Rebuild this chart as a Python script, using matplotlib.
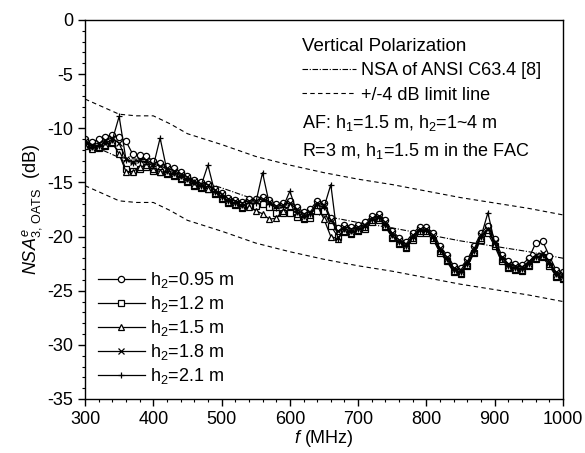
import numpy as np
import matplotlib
matplotlib.use('Agg')
import matplotlib.pyplot as plt
from matplotlib.lines import Line2D
from matplotlib.ticker import MultipleLocator

plt.rcParams['font.family'] = 'Liberation Sans'
plt.rcParams['mathtext.fontset'] = 'custom'
plt.rcParams['mathtext.rm'] = 'Liberation Sans'
plt.rcParams['mathtext.it'] = 'Liberation Sans:italic'
plt.rcParams['axes.unicode_minus'] = False

# frequency grid of the measured curves (MHz)
freq = list(range(300, 1001, 10))

# measured NSA for each receive antenna height (dB)
nsa_095 = [-11.0, -11.3, -11.0, -10.8, -10.6, -10.8, -11.2, -12.4, -12.5, -12.6,
           -13.0, -13.2, -13.5, -13.7, -14.0, -14.4, -14.8, -15.0, -15.1, -15.6,
           -16.0, -16.4, -16.6, -16.8, -16.5, -16.5, -16.3, -16.6, -17.0, -16.9,
           -16.7, -17.3, -17.7, -17.5, -16.7, -16.9, -18.3, -19.2, -18.9, -19.1,
           -18.9, -18.7, -18.1, -17.9, -18.5, -19.5, -20.1, -20.5, -19.7, -19.1,
           -19.1, -19.7, -20.9, -21.7, -22.7, -22.9, -22.1, -20.9, -19.7, -19.0,
           -20.2, -21.7, -22.3, -22.5, -22.6, -22.0, -20.6, -20.4, -21.8, -23.1,
           -23.3]
nsa_12 = [-11.5, -11.8, -11.8, -11.6, -11.4, -12.2, -13.8, -13.9, -13.8, -13.6,
          -13.9, -14.0, -14.2, -14.4, -14.7, -15.0, -15.3, -15.5, -15.6, -16.1,
          -16.5, -16.9, -17.1, -17.4, -17.2, -17.2, -17.0, -17.3, -17.8, -17.8,
          -17.8, -18.2, -18.4, -18.3, -17.6, -17.6, -19.0, -20.0, -19.6, -19.8,
          -19.5, -19.3, -18.7, -18.5, -19.1, -20.1, -20.7, -21.1, -20.3, -19.7,
          -19.7, -20.3, -21.5, -22.3, -23.3, -23.5, -22.7, -21.5, -20.3, -19.7,
          -20.9, -22.3, -22.9, -23.1, -23.2, -22.7, -22.1, -21.9, -22.7, -23.7,
          -23.9]
nsa_15 = [-11.6, -11.9, -11.7, -11.5, -11.3, -12.4, -14.0, -14.0, -13.6, -13.4,
          -13.8, -14.0, -14.1, -14.3, -14.6, -14.9, -15.2, -15.4, -15.6, -16.0,
          -16.4, -16.8, -17.0, -17.3, -17.3, -17.6, -17.9, -18.4, -18.3, -17.6,
          -17.2, -17.9, -18.3, -18.0, -17.1, -18.4, -20.0, -20.2, -19.5, -19.7,
          -19.4, -19.1, -18.5, -18.3, -19.0, -20.0, -20.6, -21.0, -20.1, -19.5,
          -19.5, -20.1, -21.3, -22.2, -23.2, -23.4, -22.6, -21.4, -20.1, -19.4,
          -20.7, -22.1, -22.8, -23.0, -23.1, -22.6, -22.0, -21.8, -22.5, -23.6,
          -23.8]
nsa_18 = [-11.2, -11.5, -11.4, -11.1, -10.9, -11.4, -12.8, -13.1, -12.9, -12.9,
          -13.3, -13.5, -13.7, -13.9, -14.2, -14.5, -14.9, -15.1, -15.2, -15.7,
          -16.1, -16.5, -16.7, -16.9, -16.7, -16.7, -16.5, -16.8, -17.2, -17.1,
          -16.9, -17.5, -17.9, -17.7, -16.9, -17.1, -18.5, -19.5, -19.1, -19.3,
          -19.1, -18.9, -18.3, -18.1, -18.7, -19.7, -20.3, -20.7, -19.9, -19.3,
          -19.3, -19.9, -21.1, -21.9, -22.9, -23.1, -22.3, -21.1, -19.9, -19.3,
          -20.5, -21.9, -22.5, -22.7, -22.8, -22.3, -21.7, -21.5, -22.3, -23.3,
          -23.5]
nsa_21 = [-11.4, -11.7, -11.6, -11.3, -11.1, -8.9, -12.9, -13.2, -13.0, -13.1,
          -13.5, -10.9, -13.9, -14.1, -14.4, -14.7, -15.0, -15.3, -13.4, -15.9,
          -16.3, -16.7, -16.9, -17.1, -16.9, -16.9, -14.1, -17.0, -17.4, -17.3,
          -15.8, -17.7, -18.1, -17.9, -17.1, -17.3, -15.2, -20.2, -19.3, -19.5,
          -19.3, -19.1, -18.5, -18.3, -18.9, -19.9, -20.5, -20.9, -20.1, -19.5,
          -19.5, -20.1, -21.3, -22.1, -23.1, -23.3, -22.5, -21.3, -20.0, -17.8,
          -20.6, -22.1, -22.7, -22.9, -23.0, -22.5, -21.9, -21.7, -22.5, -23.5,
          -23.7]

series = [nsa_095, nsa_12, nsa_15, nsa_18, nsa_21]
labels = ['h$_2$=0.95 m', 'h$_2$=1.2 m', 'h$_2$=1.5 m', 'h$_2$=1.8 m', 'h$_2$=2.1 m']
markers = ['o', 's', '^', 'x', '+']

# theoretical NSA of ANSI C63.4 and the +/-4 dB limits
ref_freq = [300, 325, 350, 375, 400, 425, 450, 500, 550, 600, 650, 700, 750,
            800, 850, 900, 950, 1000]
ref_nsa = [-11.3, -12.0, -12.7, -12.85, -12.85, -13.6, -14.5, -15.5, -16.6,
           -17.4, -18.1, -18.7, -19.2, -19.8, -20.4, -20.9, -21.4, -22.0]
limit = 4.0

fig = plt.figure(figsize=(5.85, 4.53), dpi=100)
ax = fig.add_axes([85/585, 1-399/453, (563-85)/585, (399-20)/453])

ref = np.array(ref_nsa)
ax.plot(ref_freq, ref, color='black', lw=0.8, ls=(0, (5, 1.5, 1, 1.5)))
ax.plot(ref_freq, ref + limit, color='black', lw=0.8, ls=(0, (4, 3)))
ax.plot(ref_freq, ref - limit, color='black', lw=0.8, ls=(0, (4, 3)))

handles = []
for vals, lab, m in zip(series, labels, markers):
    h, = ax.plot(freq, vals, color='black', lw=0.9, marker=m, ms=4.5,
                 mfc='white', mec='black', mew=0.9, label=lab)
    handles.append(h)

ax.set_xlim(300, 1000)
ax.set_ylim(-35, 0)
ax.xaxis.set_major_locator(MultipleLocator(100))
ax.xaxis.set_minor_locator(MultipleLocator(20))
ax.yaxis.set_major_locator(MultipleLocator(5))
ax.yaxis.set_minor_locator(MultipleLocator(1))
ax.tick_params(which='major', direction='out', length=5, width=1, labelsize=13)
ax.tick_params(which='minor', direction='out', length=2.5, width=0.8)
for s in ax.spines.values():
    s.set_linewidth(1)

ax.set_xlabel('$f$ (MHz)', fontsize=13, labelpad=0)
ax.set_ylabel('$NSA^{e}_{3,\\,\\mathrm{OATS}}$  (dB)', fontsize=13, labelpad=2)

leg = ax.legend(handles=handles, loc='lower left', bbox_to_anchor=(0.0, 0.0),
                frameon=False, fontsize=13, handlelength=2.6, labelspacing=0.22,
                handletextpad=0.3, borderaxespad=0.3)
ax.add_artist(leg)

ref_handles = [Line2D([], [], color='black', lw=0.8, ls=(0, (5, 1.5, 1, 1.5))),
               Line2D([], [], color='black', lw=0.8, ls=(0, (4, 3)))]
leg2 = ax.legend(ref_handles, ['NSA of ANSI C63.4 [8]', '+/-4 dB limit line'],
                 loc='upper left', bbox_to_anchor=(0.42, 0.995), frameon=False,
                 fontsize=13, handlelength=3.0, handletextpad=0.25,
                 labelspacing=0.4, title='Vertical Polarization',
                 title_fontsize=13.5, alignment='left')
ax.text(0.455, 0.727, 'AF: h$_1$=1.5 m, h$_2$=1~4 m', transform=ax.transAxes,
        fontsize=13, va='center')
ax.text(0.455, 0.655, 'R=3 m, h$_1$=1.5 m in the FAC', transform=ax.transAxes,
        fontsize=13, va='center')

fig.savefig('out.png', dpi=100)
